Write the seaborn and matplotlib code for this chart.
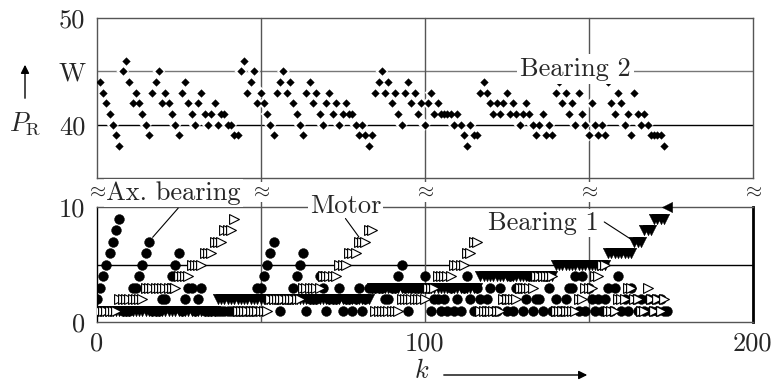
import numpy as np
import matplotlib
matplotlib.use("Agg")
import matplotlib.pyplot as plt
import seaborn as sns

# ---------------- data ----------------
# Upper panel: Bearing 2, P_R in W, sample index k = 1..173
bearing2_k = list(range(1, 174))
bearing2 = [44, 43, 42, 41, 40, 39, 38,
            45, 46, 44,
            42, 43, 42, 41, 40, 39,
            43, 44, 45,
            42, 43, 42, 41, 40, 39,
            43, 44,
            42, 41, 40,
            42, 43,
            41, 40, 41, 42, 40,
            41, 41, 40, 40, 39, 39,
            45, 46,
            43, 44, 45,
            42, 43, 42, 41, 40, 39,
            43, 44, 45,
            43, 44, 42, 41, 40, 39,
            43, 44, 42, 43,
            41, 40,
            42, 43, 41, 42, 40, 41, 42,
            41, 41, 40, 39, 40, 39, 38, 39,
            43, 44, 45,
            43, 44, 42, 43, 41, 40,
            43, 44, 42, 43, 41, 42, 40,
            42, 43, 41, 42, 41, 41, 41, 41,
            40, 41, 40, 39, 38, 40, 39, 39,
            43, 44, 43, 42, 41, 42, 41, 42, 43, 41, 42, 41,
            40, 41, 42, 41, 40, 39, 40, 41, 39, 40, 39,
            43, 44, 42, 43, 41, 42, 40, 43, 41, 40, 39, 42, 40, 39, 40, 39,
            44, 42, 41, 43, 42, 40, 41, 39, 43, 41, 40, 41, 40,
            39, 39, 39, 39, 38]

# Lower panel: k = 0..174
ax_bearing_k = list(range(0, 175))
ax_bearing = [2, 3, 4, 5, 6, 7, 8, 9, 1, 1,
              1, 3, 3, 4, 5, 6, 7, 1, 1, 1,
              2, 2, 3, 4, 5, 6, 1, 2, 3, 3,
              1, 2, 3, 1, 1, 1, 1, 1, 1, 1,
              1, 1, 1, 1, 1, 1, 1, 1, 1, 3,
              3, 4, 5, 6, 7, 2, 1, 2, 2, 2,
              3, 4, 5, 6, 1, 2, 2, 2, 4, 3,
              1, 2, 2, 2, 3, 1, 2, 2, 1, 2,
              3, 1, 2, 3, 3, 3, 3, 3, 2, 2,
              3, 3, 4, 5, 3, 1, 3, 3, 3, 3,
              4, 3, 1, 2, 2, 1, 2, 1, 3, 1,
              2, 1, 3, 4, 2, 1, 3, 2, 1, 2,
              3, 1, 1, 3, 2, 1, 4, 1, 3, 3,
              1, 2, 4, 1, 2, 2, 1, 4, 3, 1,
              2, 1, 1, 2, 3, 3, 4, 1, 4, 1,
              3, 2, 1, 2, 1, 2, 3, 1, 3, 4,
              1, 2, 1, 3, 2, 1, 2, 1, 2, 1,
              2, 1, 2, 1, 1]

motor_k = list(range(0, 174))
motor = [1, 1, 1, 1, 1, 1, 1, 2, 2, 2,
         2, 2, 2, 2, 2, 3, 3, 3, 3, 3,
         3, 3, 3, 3, 3, 4, 4, 4, 4, 5,
         5, 5, 5, 6, 6, 6, 7, 7, 7, 8,
         8, 8, 9, 1, 1, 1, 1, 1, 1, 1,
         1, 1, 1, 2, 2, 2, 2, 2, 2, 2,
         2, 2, 2, 3, 3, 3, 3, 3, 3, 4,
         4, 4, 4, 4, 5, 5, 5, 6, 6, 6,
         7, 7, 7, 8, 8, 1, 1, 1, 1, 1,
         1, 1, 1, 2, 2, 2, 2, 2, 2, 2,
         2, 3, 3, 3, 4, 4, 4, 4, 4, 5,
         5, 5, 5, 6, 6, 7, 7, 1, 1, 1,
         1, 1, 1, 1, 2, 2, 2, 2, 2, 3,
         3, 3, 3, 3, 4, 4, 4, 4, 4, 4,
         1, 1, 1, 1, 1, 1, 1, 2, 2, 3,
         3, 3, 4, 4, 5, 5, 1, 1, 1, 2,
         2, 2, 3, 3, 2, 2, 1, 1, 3, 2,
         1, 2, 1, 2]

bearing1_k = list(range(0, 175))
bearing1 = [1, 1, 1, 1, 1, 1, 1, 1, 1, 1,
            1, 1, 1, 1, 1, 1, 1, 1, 1, 1,
            1, 1, 1, 1, 1, 1, 1, 1, 1, 1,
            1, 1, 1, 1, 1, 1, 1, 2, 2, 2,
            2, 2, 2, 2, 2, 2, 2, 2, 2, 2,
            2, 2, 2, 2, 2, 2, 2, 2, 2, 2,
            2, 2, 2, 2, 2, 2, 2, 2, 2, 2,
            2, 2, 2, 2, 2, 2, 2, 2, 2, 2,
            2, 2, 2, 2, 3, 3, 3, 3, 3, 3,
            3, 3, 3, 3, 3, 3, 3, 3, 3, 3,
            3, 3, 3, 3, 3, 3, 3, 3, 3, 3,
            3, 3, 3, 3, 3, 3, 3, 4, 4, 4,
            4, 4, 4, 4, 4, 4, 4, 4, 4, 4,
            4, 4, 4, 4, 4, 4, 4, 4, 4, 4,
            5, 5, 5, 5, 5, 5, 5, 5, 5, 5,
            5, 5, 5, 5, 5, 5, 6, 6, 6, 6,
            6, 6, 6, 6, 7, 7, 7, 8, 8, 8,
            9, 9, 9, 9, 10]

top_yticks = [40, 45, 50]
top_yticklabels = ["40", "W", "50"]
bot_yticks = [0, 10]
bot_yticklabels = ["0", "10"]
xticks = [0, 100, 200]
xticklabels = ["0", "100", "200"]
vgrid = [50, 100, 150]

# ---------------- style ----------------
sns.set_theme(style="white")
plt.rcParams["font.family"] = ["cmr10", "DejaVu Serif"]
plt.rcParams["mathtext.fontset"] = "cm"
plt.rcParams["axes.unicode_minus"] = False
plt.rcParams["axes.formatter.use_mathtext"] = True
FS = 19

W, H = 775, 384
fig = plt.figure(figsize=(W / 100, H / 100), dpi=100)


def fx(x):
    return x / W


def fy(y):
    return 1 - y / H


L, R = 96.5, 752.5
ax_top = fig.add_axes([fx(L), fy(178), fx(R) - fx(L), fy(18) - fy(178)])
ax_bot = fig.add_axes([fx(L), fy(322), fx(R) - fx(L), fy(207) - fy(322)])

GRID = "#555555"

# ---- top panel ----
ax_top.set_xlim(0, 200)
ax_top.set_ylim(35, 50)
ax_top.axhline(45, color="#777777", lw=1.0, zorder=0)
ax_top.axhline(40, color="black", lw=1.0, zorder=0)
gap = -29 / 160
for v in vgrid:
    ax_top.axvline(v, ymin=gap, ymax=1, color=GRID, lw=1.0, zorder=0, clip_on=False)
sns.scatterplot(x=bearing2_k, y=bearing2, ax=ax_top, marker="D", s=42,
                color="white", edgecolor="none", linewidth=0, zorder=2, legend=False)
sns.scatterplot(x=bearing2_k, y=bearing2, ax=ax_top, marker="D", s=15,
                color="black", edgecolor="black", linewidth=0.3, zorder=3, legend=False)
ax_top.set_yticks(top_yticks)
ax_top.set_yticklabels(top_yticklabels, fontsize=FS)
ax_top.set_xticks([])
ax_top.tick_params(axis="y", length=0, pad=8)
for s in ax_top.spines.values():
    s.set_color(GRID)
    s.set_linewidth(1.0)
ax_top.set_xlabel("")
ax_top.set_ylabel("")
ax_top.text(146, 44.55, "Bearing 2", fontsize=FS, ha="center", va="baseline",
            zorder=5, bbox=dict(facecolor="white", edgecolor="none", pad=2))

# ---- bottom panel ----
ax_bot.set_xlim(0, 200)
ax_bot.set_ylim(0, 10)
ax_bot.axhline(5, color="black", lw=1.0, zorder=0)
for v in vgrid:
    ax_bot.axvline(v, color=GRID, lw=1.0, zorder=0)
sns.scatterplot(x=ax_bearing_k, y=ax_bearing, ax=ax_bot, marker="o", s=50,
                color="black", edgecolor="black", linewidth=0.3, zorder=3, legend=False)
sns.scatterplot(x=bearing1_k[:-1], y=bearing1[:-1], ax=ax_bot, marker="v", s=58,
                color="black", edgecolor="black", linewidth=0.3, zorder=4, legend=False)
sns.scatterplot(x=bearing1_k[-1:], y=bearing1[-1:], ax=ax_bot, marker="<", s=55,
                color="black", edgecolor="black", linewidth=0.3, zorder=4, legend=False,
                clip_on=False)
sns.scatterplot(x=motor_k, y=motor, ax=ax_bot, marker=">", s=50,
                color="white", edgecolor="black", linewidth=0.8, zorder=5, legend=False)
ax_bot.set_yticks(bot_yticks)
ax_bot.set_yticklabels(bot_yticklabels, fontsize=FS)
ax_bot.set_xticks(xticks)
ax_bot.set_xticklabels(xticklabels, fontsize=FS)
ax_bot.tick_params(axis="both", length=0)
ax_bot.tick_params(axis="y", pad=8)
ax_bot.tick_params(axis="x", pad=7)
for name, s in ax_bot.spines.items():
    s.set_color(GRID)
    s.set_linewidth(1.0)
ax_bot.spines["right"].set_color("black")
ax_bot.spines["right"].set_linewidth(2.0)
ax_bot.spines["left"].set_color("black")
ax_bot.set_xlabel("")
ax_bot.set_ylabel("")

box = dict(facecolor="white", edgecolor="none", pad=1.5)
ax_bot.text(23.4, 10.6, "Ax. bearing", fontsize=FS, ha="center", va="baseline",
            zorder=6, bbox=box, clip_on=False)
ax_bot.annotate("", xy=(ax_bearing_k[16], ax_bearing[16]), xytext=(24.9, 9.9),
                arrowprops=dict(arrowstyle="-", lw=0.8, color="black", shrinkA=0, shrinkB=4),
                zorder=6, annotation_clip=False)
ax_bot.text(75.9, 9.45, "Motor", fontsize=FS, ha="center", va="baseline",
            zorder=6, bbox=box, clip_on=False)
ax_bot.annotate("", xy=(motor_k[81], motor[81]), xytext=(75.9, 9.0),
                arrowprops=dict(arrowstyle="-", lw=0.8, color="black", shrinkA=0, shrinkB=4),
                zorder=6, annotation_clip=False)
ax_bot.text(136.3, 8.0, "Bearing 1", fontsize=FS, ha="center", va="baseline",
            zorder=6, bbox=box, clip_on=False)
ax_bot.annotate("", xy=(bearing1_k[164], bearing1[164]), xytext=(154.8, 8.7),
                arrowprops=dict(arrowstyle="-", lw=0.8, color="black", shrinkA=0, shrinkB=3),
                zorder=6, annotation_clip=False)

# axis-break marks between the panels
for v in [0, 50, 100, 150, 200]:
    ax_bot.text(v, 11.3, r"$\approx$", fontsize=15, ha="center", va="center",
                zorder=7, clip_on=False,
                bbox=dict(facecolor="white", edgecolor="none", pad=0.5))

# y-axis label with arrow
fig.text(fx(25), fy(124), r"$P_\mathrm{R}$", fontsize=FS, ha="center", va="center")
fig.patches.append(matplotlib.patches.FancyArrowPatch(
    (fx(25), fy(101)), (fx(25), fy(62)), transform=fig.transFigure,
    arrowstyle="-|>,head_length=5,head_width=2.5", lw=1.0, color="black"))

# x-axis label with arrow
fig.text(fx(422), fy(382.5), r"$k$", fontsize=FS, ha="center", va="bottom")
fig.patches.append(matplotlib.patches.FancyArrowPatch(
    (fx(441), fy(375)), (fx(590), fy(375)), transform=fig.transFigure,
    arrowstyle="-|>,head_length=5,head_width=2.5", lw=1.0, color="black"))

fig.savefig("out.png", dpi=100)
